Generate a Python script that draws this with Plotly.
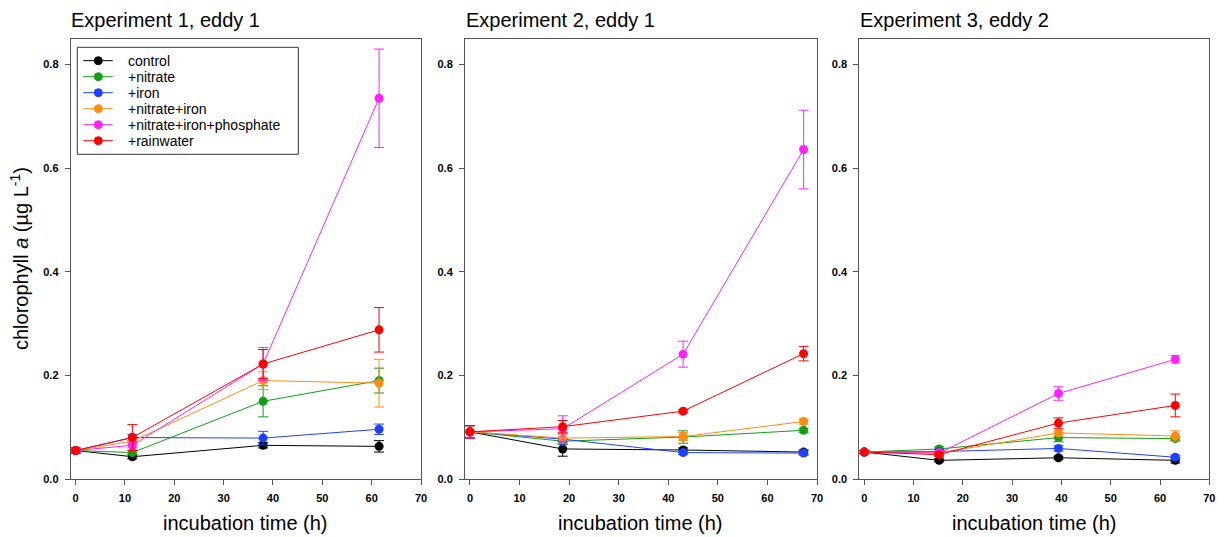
import plotly.graph_objects as go

W, H = 1225, 537

treatments = ["control", "+nitrate", "+iron", "+nitrate+iron", "+nitrate+iron+phosphate", "+rainwater"]
colors = ["#000000", "#12a012", "#2040ff", "#ff8c10", "#ff22ff", "#ff0000"]

panel_titles = ["Experiment 1, eddy 1", "Experiment 2, eddy 1", "Experiment 3, eddy 2"]

times_exp1 = [0, 11.5, 38, 61.5]
times_exp2 = [0, 18.7, 43, 67.3]
times_exp3 = [0, 15.2, 39.4, 63.1]

exp1_values = [
    [0.055, 0.043, 0.065, 0.063],
    [0.055, 0.051, 0.150, 0.190],
    [0.055, 0.080, 0.079, 0.096],
    [0.055, 0.073, 0.190, 0.185],
    [0.055, 0.065, 0.222, 0.735],
    [0.055, 0.080, 0.222, 0.288],
]
exp1_errors = [
    [0.004, 0.004, 0.005, 0.011],
    [0.004, 0.004, 0.030, 0.024],
    [0.004, 0.006, 0.013, 0.010],
    [0.004, 0.005, 0.017, 0.046],
    [0.004, 0.005, 0.032, 0.095],
    [0.006, 0.025, 0.028, 0.043],
]

exp2_values = [
    [0.091, 0.058, 0.056, 0.052],
    [0.091, 0.073, 0.081, 0.094],
    [0.091, 0.077, 0.051, 0.050],
    [0.091, 0.079, 0.082, 0.111],
    [0.091, 0.097, 0.241, 0.636],
    [0.091, 0.101, 0.131, 0.242],
]
exp2_errors = [
    [0.012, 0.014, 0.004, 0.004],
    [0.012, 0.005, 0.012, 0.004],
    [0.012, 0.010, 0.004, 0.004],
    [0.012, 0.010, 0.008, 0.005],
    [0.012, 0.025, 0.025, 0.076],
    [0.012, 0.012, 0.003, 0.014],
]

exp3_values = [
    [0.052, 0.036, 0.041, 0.036],
    [0.052, 0.058, 0.080, 0.078],
    [0.052, 0.053, 0.059, 0.042],
    [0.052, 0.050, 0.089, 0.083],
    [0.052, 0.050, 0.165, 0.231],
    [0.052, 0.047, 0.108, 0.142],
]
exp3_errors = [
    [0.003, 0.003, 0.003, 0.005],
    [0.003, 0.004, 0.008, 0.004],
    [0.003, 0.004, 0.005, 0.004],
    [0.003, 0.004, 0.006, 0.010],
    [0.003, 0.004, 0.013, 0.007],
    [0.003, 0.004, 0.010, 0.022],
]

x_ticks = [0, 10, 20, 30, 40, 50, 60, 70]
y_ticks = [0.0, 0.2, 0.4, 0.6, 0.8]

experiments = [
    (times_exp1, exp1_values, exp1_errors),
    (times_exp2, exp2_values, exp2_errors),
    (times_exp3, exp3_values, exp3_errors),
]

# panel pixel geometry (window pixels)
x_px = [(70.7, 421.0), (465.0, 817.0), (859.3, 1209.3)]
y_top, y_bot = 38.7, 479.0


def px(x):
    return x / W


def py(y):
    return 1 - y / H


fig = go.Figure()
font = "Liberation Sans, Arial, sans-serif"

for p, (times, vals, errs) in enumerate(experiments):
    xa = "x" if p == 0 else f"x{p+1}"
    ya = "y" if p == 0 else f"y{p+1}"
    for i, name in enumerate(treatments):
        fig.add_trace(go.Scatter(
            x=times, y=vals[i], mode="lines+markers", name=name,
            showlegend=False,
            line=dict(color=colors[i], width=1),
            marker=dict(color=colors[i], size=9),
            error_y=dict(type="data", array=errs[i], visible=True,
                         color=colors[i], thickness=1, width=5),
            xaxis=xa, yaxis=ya,
        ))

layout = dict(
    width=W, height=H,
    margin=dict(l=0, r=0, t=0, b=0),
    paper_bgcolor="white", plot_bgcolor="white",
    font=dict(family=font, color="#000"),
    showlegend=False,
)

axis_common = dict(showline=True, linecolor="#555", linewidth=1, mirror=True,
                   showgrid=False, zeroline=False, ticks="outside", ticklen=5,
                   tickcolor="#555", automargin=False,
                   tickfont=dict(size=11, family=font, weight="bold"))

annotations = []
shapes = []
for p in range(3):
    sx = "" if p == 0 else str(p + 1)
    x0, x1 = x_px[p]
    layout["xaxis" + sx] = dict(axis_common, domain=[px(x0), px(x1)], range=[-1, 70],
                                tickvals=x_ticks, anchor="y" + sx, ticklabelstandoff=4)
    layout["yaxis" + sx] = dict(axis_common, domain=[py(y_bot), py(y_top)],
                                range=[0, 0.85], tickvals=y_ticks, tickformat=".1f",
                                anchor="x" + sx, ticklabelstandoff=4)
    annotations.append(dict(text=panel_titles[p], xref="paper", yref="paper",
                            x=px(x0 - 1.5), y=py(20), xanchor="left", yanchor="middle",
                            showarrow=False, font=dict(size=20, family=font)))
    annotations.append(dict(text="incubation time (h)", xref="paper", yref="paper",
                            x=px((x0 + x1) / 2), y=py(523), xanchor="center",
                            yanchor="middle", showarrow=False,
                            font=dict(size=20, family=font)))

annotations.append(dict(text="chlorophyll <i>a</i> (µg L<sup>-1</sup>)", xref="paper",
                        yref="paper", x=px(19), y=py(259), xanchor="center",
                        yanchor="middle", textangle=-90, showarrow=False,
                        font=dict(size=20, family=font)))

# legend box (drawn as layout decoration)
lg_left, lg_right, lg_top, lg_bot = 77.3, 298.3, 47.3, 154.3
lg_row0, lg_step = 60.7, 16.0
shapes.append(dict(type="rect", xref="paper", yref="paper",
                   x0=px(lg_left), x1=px(lg_right), y0=py(lg_bot), y1=py(lg_top),
                   line=dict(color="#333", width=1), fillcolor="white", layer="above"))
for i, name in enumerate(treatments):
    yc = lg_row0 + i * lg_step
    shapes.append(dict(type="line", xref="paper", yref="paper",
                       x0=px(83.3), x1=px(112.7), y0=py(yc), y1=py(yc),
                       line=dict(color=colors[i], width=1), layer="above"))
    shapes.append(dict(type="circle", xref="paper", yref="paper",
                       x0=px(98.3 - 4), x1=px(98.3 + 4), y0=py(yc + 4), y1=py(yc - 4),
                       line=dict(color=colors[i], width=1), fillcolor=colors[i],
                       layer="above"))
    annotations.append(dict(text=name, xref="paper", yref="paper",
                            x=px(126), y=py(yc), xanchor="left", yanchor="middle",
                            showarrow=False, font=dict(size=14, family=font)))

layout["annotations"] = annotations
layout["shapes"] = shapes

fig.update_layout(**layout)
fig.write_html("out.html",
               config={"displayModeBar": False},
               post_script="document.body.style.margin='0';document.body.style.overflow='hidden';")
